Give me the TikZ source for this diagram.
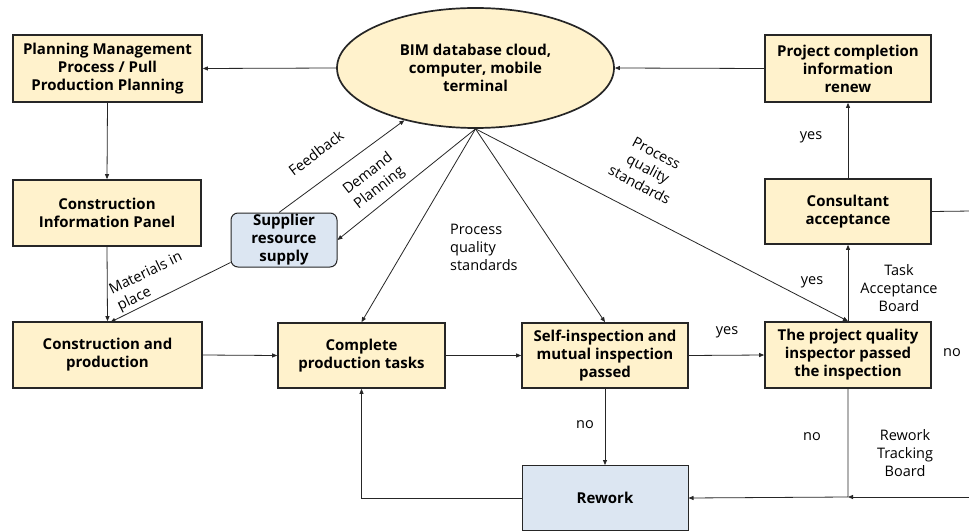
\documentclass[tikz,border=0pt]{standalone}
\usepackage{fontspec}
\setmainfont{Open Sans}
\usetikzlibrary{shapes.geometric,arrows.meta,calc}
\definecolor{cream}{HTML}{FFF2CC}
\definecolor{pale}{HTML}{DCE6F2}
\begin{document}
\begin{tikzpicture}[x=1pt,y=-1pt,
  box/.style={draw=black!85, line width=1.7pt, fill=cream, font=\fontsize{15}{18}\selectfont\bfseries, align=center, inner sep=0pt},
  lbl/.style={font=\fontsize{14.5}{18}\selectfont, inner sep=0pt},
  conn/.style={line width=0.8pt, draw=black!85},
  arr/.style={conn, -{Triangle[length=5pt,width=4pt]}}]
\useasboundingbox (0,0) rectangle (969,532);
\fill[white] (0,0) rectangle (969,532);

\node[box, minimum width=189pt, minimum height=67pt] (PM) at (107.5,68.5) {Planning Management\\Process / Pull\\Production Planning};
\node[box, minimum width=188pt, minimum height=66pt] (CIP) at (107,213) {Construction\\Information Panel};
\node[box, minimum width=189pt, minimum height=66pt] (CP) at (107.5,355) {Construction and\\production};
\node[box, fill=pale, rounded corners=7pt, line width=1pt, minimum width=106pt, minimum height=54pt] (SUP) at (284,240) {Supplier\\resource\\supply};
\node[box, minimum width=167pt, minimum height=65pt] (CPT) at (361.5,355.5) {Complete\\production tasks};
\node[box, minimum width=166pt, minimum height=65pt] (SI) at (605,355.5) {Self-inspection and\\mutual inspection\\passed};
\node[box, minimum width=166pt, minimum height=66pt] (PQI) at (848,355) {The project quality\\inspector passed\\the inspection};
\node[box, minimum width=166pt, minimum height=65pt] (CA) at (848,211.5) {Consultant\\acceptance};
\node[box, minimum width=166pt, minimum height=67pt] (PC) at (848,68.5) {Project completion\\information\\renew};
\node[box, fill=pale, line width=1pt, minimum width=166pt, minimum height=65pt] (RW) at (605,498) {Rework};
\node[box, ellipse, minimum width=277pt, minimum height=120pt] (BIM) at (475.5,68) {BIM database cloud,\\computer, mobile\\terminal};

\coordinate (J) at (848,497);
\coordinate (RE1) at (972,211);
\coordinate (RE2) at (972,497);

\draw[arr] (BIM.west) -- (PM.east);
\draw[arr] (PC.west) -- (BIM.east);
\draw[arr] (PM.south) -- (CIP.north);
\draw[arr] (CIP.south) -- (CP.north);
\draw[arr] ($(SUP.south west)+(0,-5)$) -- ($(CP.north)+(3,1)$);
\draw[arr] ($(SUP.north)+(-5,0)$) -- (BIM);
\draw[arr] (BIM.south) -- (SUP.east);
\draw[arr] (BIM.south) -- (CPT.north);
\draw[arr] (BIM.south) -- (SI.north);
\draw[arr] (BIM.south) -- (PQI.north);
\draw[arr] (CP.east) -- (CPT.west);
\draw[arr] (CPT.east) -- (SI.west);
\draw[arr] (SI.east) -- (PQI.west);
\draw[arr] (PQI.north) -- (CA.south);
\draw[arr] (CA.north) -- (PC.south);
\draw[arr] (SI.south) -- (RW.north);
\draw[conn] (CA.east) -- (RE1);
\draw[arr] (RE2) -- (J);
\draw[arr] (PQI.south) -- (J) -- (RW.east);
\draw[arr] (RW.west) -| (CPT.south);

\node[lbl, rotate=37] (fb) at (316,153) {Feedback};
\node[lbl, rotate=38, align=left] (dp) at (374,181) {Demand\\Planning};
\node[lbl, rotate=26, align=left] (mp) at (150,282) {Materials in\\place};
\node[lbl, align=left, anchor=north west] (pq1) at (450,224) {Process\\quality\\standards};
\node[lbl, rotate=-28, align=center] (pq2) at (648,169) {Process\\quality\\standards};
\node[lbl] (y1) at (811,137) {yes};
\node[lbl] (y2) at (812,282) {yes};
\node[lbl] (y3) at (727,332) {yes};
\node[lbl, align=center] (tab) at (899,288) {Task\\Acceptance\\Board};
\node[lbl] (n1) at (952,353) {no};
\node[lbl] (n2) at (585,425) {no};
\node[lbl] (n3) at (812,437) {no};
\node[lbl, align=center] (rtb) at (905,453) {Rework\\Tracking\\Board};
\end{tikzpicture}
\end{document}
